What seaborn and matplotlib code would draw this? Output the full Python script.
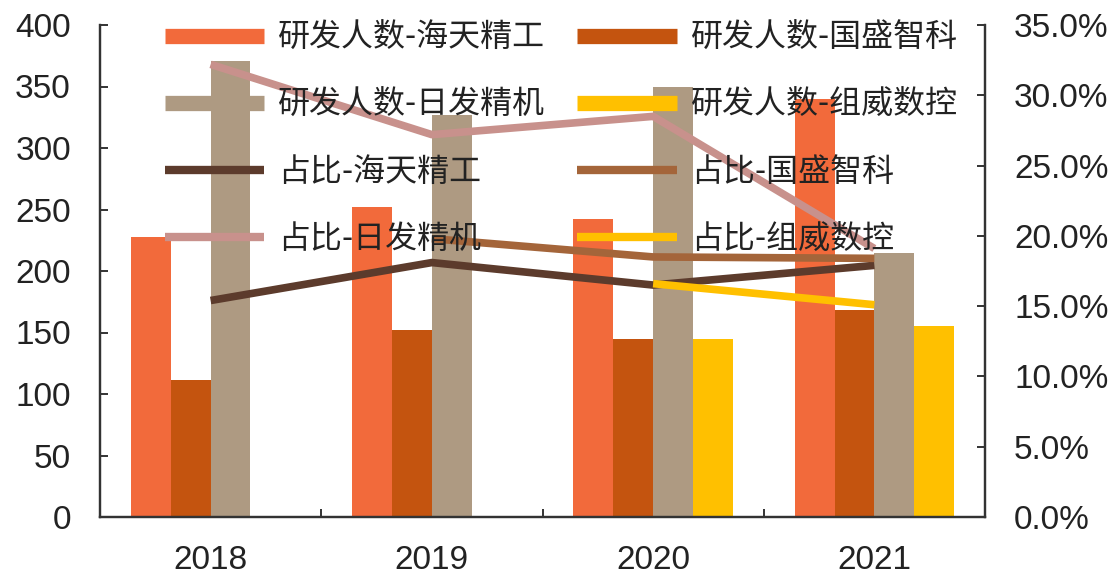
import numpy as np
import pandas as pd
import matplotlib
matplotlib.use("Agg")
import matplotlib.pyplot as plt
import seaborn as sns
from matplotlib.lines import Line2D
from matplotlib.ticker import FuncFormatter, FixedLocator

# ---- data ----
years = ["2018", "2019", "2020", "2021"]
companies = ["海天精工", "国盛智科", "日发精机", "组威数控"]
rd_haitian = [228, 252, 242, 340]
rd_guosheng = [111, 152, 145, 168]
rd_rifa = [371, 327, 350, 215]
rd_zuwei = [np.nan, np.nan, 145, 155]
pct_haitian = [15.4, 18.1, 16.5, 17.9]
pct_guosheng = [np.nan, 19.8, 18.5, 18.4]
pct_rifa = [32.2, 27.2, 28.5, 19.1]
pct_zuwei = [np.nan, np.nan, 16.6, 15.1]
left_ticks = [0, 50, 100, 150, 200, 250, 300, 350, 400]
right_ticks = [0, 5, 10, 15, 20, 25, 30, 35]

bar_colors = ["#f26a3b", "#c4540f", "#ae9a82", "#ffc000"]
line_colors = ["#5c3b2c", "#a4653a", "#c8918c", "#ffc000"]

bar_series = [rd_haitian, rd_guosheng, rd_rifa, rd_zuwei]
pct_series = [pct_haitian, pct_guosheng, pct_rifa, pct_zuwei]
bar_labels = ["研发人数-" + c for c in companies]
line_labels = ["占比-" + c for c in companies]

rows = []
for lab, vals in zip(bar_labels, bar_series):
    for y, v in zip(years, vals):
        if not np.isnan(v):
            rows.append({"year": y, "series": lab, "value": v})
bar_df = pd.DataFrame(rows)

sns.set_theme(style="white")
plt.rcParams["font.family"] = ["Liberation Sans", "Noto Sans CJK SC", "DejaVu Sans"]

fig = plt.figure(figsize=(11.18, 5.75), dpi=100)
ax = fig.add_axes([100 / 1118, 58 / 575, 885 / 1118, 492 / 575])

sns.barplot(data=bar_df, x="year", y="value", hue="series", order=years,
            hue_order=bar_labels, palette=bar_colors, width=0.72,
            saturation=1, errorbar=None, legend=False, ax=ax, linewidth=0)

ax.set_xlim(-0.5, len(years) - 0.5)
ax.set_ylim(left_ticks[0], left_ticks[-1])
ax.set_yticks(left_ticks)
ax.set_xlabel("")
ax.set_ylabel("")

ax2 = ax.twinx()
xpos = np.arange(len(years))
for lab, vals, col in zip(line_labels, pct_series, line_colors):
    sns.lineplot(x=xpos, y=vals, ax=ax2, color=col, linewidth=5.5,
                 legend=False, solid_capstyle="butt")
ax2.set_ylim(right_ticks[0], right_ticks[-1])
ax2.set_yticks(right_ticks)
ax2.yaxis.set_major_formatter(FuncFormatter(lambda v, p: f"{v:.1f}%"))
ax2.set_xlim(-0.5, len(years) - 0.5)

spine_color = "#333333"
for a in (ax, ax2):
    for s in a.spines.values():
        s.set_color(spine_color)
        s.set_linewidth(1.6)
    a.spines["top"].set_visible(False)
    a.grid(False)

ax.tick_params(axis="y", direction="in", length=6, width=1.4, color=spine_color,
               labelsize=24, labelcolor="#222222", pad=21, left=True)
ax2.tick_params(axis="y", direction="in", length=6, width=1.4, color=spine_color,
                labelsize=24, labelcolor="#222222", pad=21, right=True)
ax.set_xticks(xpos)
ax.set_xticklabels(years)
ax.xaxis.set_minor_locator(FixedLocator(np.arange(-0.5, len(years), 1.0)))
ax.tick_params(axis="x", which="major", length=0, labelsize=24,
               labelcolor="#222222", pad=20)
ax.tick_params(axis="x", which="minor", direction="in", length=6, width=1.4,
               color=spine_color, bottom=True)

# legend (column-major order to match 2-column layout)
bar_handles = [Line2D([0], [0], color=c, lw=11, solid_capstyle="butt") for c in bar_colors]
line_handles = [Line2D([0], [0], color=c, lw=6, solid_capstyle="butt") for c in line_colors]
handles = []
labels = []
for col_idx in [(0, 2), (1, 3)]:
    for i in col_idx:
        handles.append(bar_handles[i]); labels.append(bar_labels[i])
    for i in col_idx:
        handles.append(line_handles[i]); labels.append(line_labels[i])

leg = ax2.legend(handles, labels, ncol=2, loc="upper left",
                 bbox_to_anchor=(165 / 1118, 1 - 22 / 575),
                 bbox_transform=fig.transFigure, frameon=False,
                 prop={"family": ["Noto Sans CJK SC", "DejaVu Sans"], "size": 23},
                 handlelength=3.1, handletextpad=0.45, columnspacing=1.0,
                 labelspacing=1.1, borderpad=0, borderaxespad=0)
for t in leg.get_texts():
    t.set_color("#222222")

fig.savefig("out.png", dpi=100)
